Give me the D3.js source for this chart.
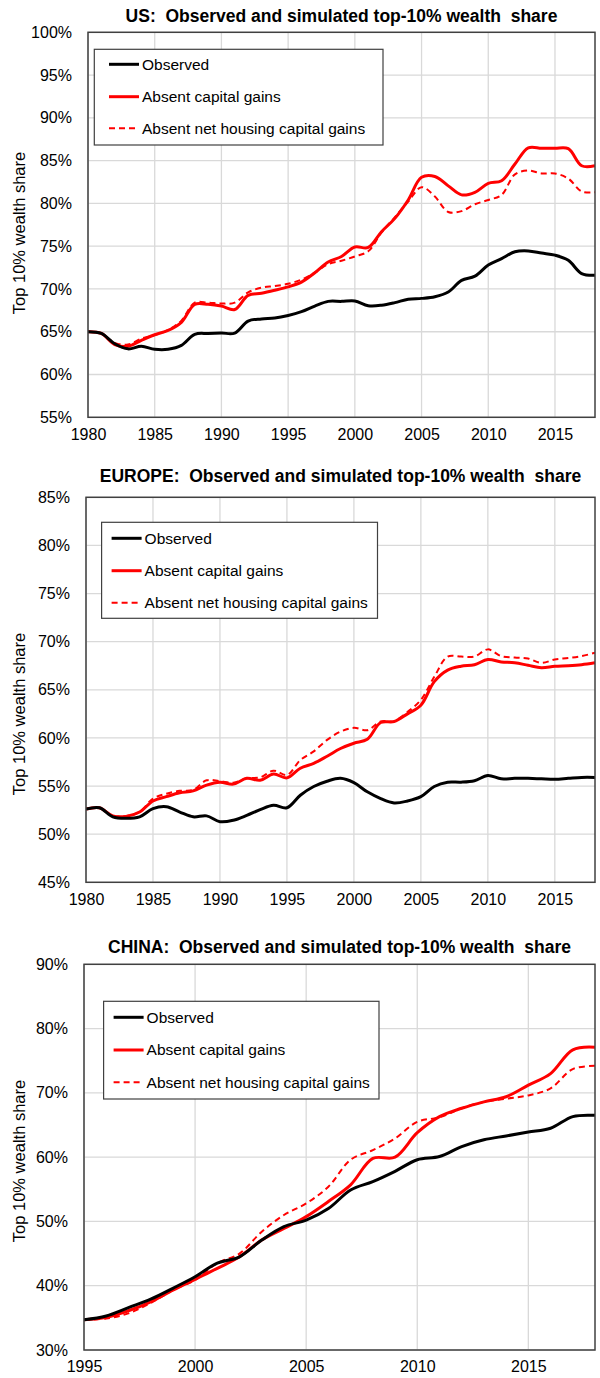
<!DOCTYPE html>
<html>
<head>
<meta charset="utf-8">
<script src="https://cdn.jsdelivr.net/npm/d3@7"></script>
<style>
  html, body { margin: 0; padding: 0; background: #fff; }
  svg { display: block; font-family: "Liberation Sans", Arial, sans-serif; }
</style>
</head>
<body>
<svg id="chart" width="600" height="1378"></svg>
<script>
// ---------- DATA ----------
const seriesNames = ["Observed", "Absent capital gains", "Absent net housing capital gains"];

const usYears = d3.range(1980, 2019);
const usObserved = [65.0, 64.8, 63.6, 63.0, 63.3, 62.95, 62.95, 63.4, 64.7, 64.8, 64.85, 64.85, 66.25, 66.5, 66.6, 66.9, 67.35, 68.0, 68.55, 68.55, 68.6, 68.05, 68.1, 68.4, 68.8, 68.9, 69.1, 69.65, 71.0, 71.5, 72.8, 73.55, 74.35, 74.45, 74.2, 73.95, 73.35, 71.8, 71.6];
const usNoCapGains = [65.0, 64.8, 63.5, 63.3, 64.0, 64.65, 65.15, 66.1, 68.2, 68.2, 68.0, 67.6, 69.25, 69.5, 69.85, 70.25, 70.8, 71.9, 73.15, 73.8, 74.9, 74.85, 76.7, 78.25, 80.4, 83.05, 83.15, 82.05, 81.0, 81.3, 82.35, 82.65, 84.6, 86.5, 86.45, 86.45, 86.4, 84.4, 84.4];
const usNoHousing = [65.0, 64.8, 63.7, 63.5, 64.2, 64.6, 65.2, 66.3, 68.4, 68.4, 68.3, 68.4, 69.6, 70.15, 70.35, 70.6, 71.1, 71.9, 72.9, 73.3, 73.8, 74.4, 76.6, 78.4, 80.2, 81.9, 80.8, 79.0, 79.1, 79.9, 80.4, 81.0, 83.4, 83.85, 83.5, 83.5, 82.9, 81.4, 81.3];
const usYTicks = [55, 60, 65, 70, 75, 80, 85, 90, 95, 100];
const usXTicks = [1980, 1985, 1990, 1995, 2000, 2005, 2010, 2015];

const euYears = d3.range(1980, 2019);
const euObserved = [52.6, 52.75, 51.8, 51.65, 51.8, 52.65, 52.85, 52.3, 51.8, 51.9, 51.3, 51.45, 51.95, 52.55, 53.0, 52.75, 54.05, 54.95, 55.5, 55.8, 55.35, 54.4, 53.7, 53.25, 53.45, 53.9, 54.95, 55.4, 55.4, 55.55, 56.1, 55.75, 55.8, 55.8, 55.75, 55.7, 55.8, 55.9, 55.9];
const euNoCapGains = [52.6, 52.75, 51.9, 51.85, 52.3, 53.45, 53.9, 54.3, 54.5, 55.1, 55.4, 55.2, 55.8, 55.6, 56.25, 55.85, 56.85, 57.35, 58.1, 58.9, 59.45, 59.85, 61.6, 61.7, 62.5, 63.4, 65.85, 67.05, 67.45, 67.6, 68.15, 67.9, 67.8, 67.55, 67.3, 67.45, 67.5, 67.6, 67.8];
const euNoHousing = [52.6, 52.75, 51.9, 51.9, 52.3, 53.7, 54.2, 54.5, 54.6, 55.6, 55.5, 55.35, 55.8, 55.9, 56.6, 56.15, 57.7, 58.6, 59.8, 60.65, 61.05, 60.8, 61.7, 61.75, 62.7, 63.95, 66.35, 68.45, 68.45, 68.45, 69.2, 68.5, 68.35, 68.25, 67.8, 68.15, 68.3, 68.5, 68.85];
const euYTicks = [45, 50, 55, 60, 65, 70, 75, 80, 85];
const euXTicks = [1980, 1985, 1990, 1995, 2000, 2005, 2010, 2015];

const cnYears = d3.range(1995, 2019);
const cnObserved = [34.7, 35.3, 36.6, 37.9, 39.6, 41.4, 43.5, 44.5, 47.1, 49.2, 50.2, 52.0, 54.9, 56.2, 57.8, 59.6, 60.1, 61.65, 62.7, 63.3, 63.9, 64.5, 66.3, 66.5];
const cnNoCapGains = [34.7, 35.1, 36.1, 37.5, 39.3, 41.0, 42.7, 44.5, 47.1, 48.9, 50.75, 53.1, 55.7, 59.8, 60.0, 63.8, 66.3, 67.6, 68.6, 69.4, 71.2, 73.0, 76.7, 77.1];
const cnNoHousing = [34.7, 34.9, 35.7, 37.3, 39.3, 40.9, 43.5, 45.0, 48.4, 51.0, 52.8, 55.4, 59.6, 61.1, 62.9, 65.5, 66.2, 67.6, 68.6, 69.1, 69.6, 70.7, 73.7, 74.2];
const cnYTicks = [30, 40, 50, 60, 70, 80, 90];
const cnXTicks = [1995, 2000, 2005, 2010, 2015];

// ---------- LAYOUT / STYLE ----------
const charts = [
  { title: "US:  Observed and simulated top-10% wealth  share",
    years: usYears, series: [usObserved, usNoCapGains, usNoHousing],
    yTicks: usYTicks, xTicks: usXTicks,
    box: { l: 88, r: 595, t: 32.3, b: 417.3 }, titleY: 16, yTitleY: 233,
    legend: { x: 94.3, y: 49.3, w: 288.7, h: 95.7, lx: 109, rows: [64.3, 96.7, 128.3] } },
  { title: "EUROPE:  Observed and simulated top-10% wealth  share",
    years: euYears, series: [euObserved, euNoCapGains, euNoHousing],
    yTicks: euYTicks, xTicks: euXTicks,
    box: { l: 86, r: 595, t: 497.3, b: 882.3 }, titleY: 476, yTitleY: 714,
    legend: { x: 101.6, y: 522.3, w: 275.9, h: 96, lx: 111.6, rows: [538.3, 570.7, 602.7] } },
  { title: "CHINA:  Observed and simulated top-10% wealth  share",
    years: cnYears, series: [cnObserved, cnNoCapGains, cnNoHousing],
    yTicks: cnYTicks, xTicks: cnXTicks,
    box: { l: 84, r: 595, t: 964.3, b: 1350 }, titleY: 947.3, yTitleY: 1161,
    legend: { x: 103.6, y: 1001.3, w: 275.4, h: 97.7, lx: 113.6, rows: [1017.3, 1050, 1082.3] } }
];

const styles = [
  { color: "#000000", width: 3, dash: null },
  { color: "#ff0000", width: 3, dash: null },
  { color: "#ff0000", width: 2, dash: "6,4" }
];

const svg = d3.select("#chart");

charts.forEach((c, ci) => {
  const b = c.box;
  const x = d3.scaleLinear().domain([c.years[0], c.years[c.years.length - 1]]).range([b.l, b.r]);
  const y = d3.scaleLinear().domain([c.yTicks[0], c.yTicks[c.yTicks.length - 1]]).range([b.b, b.t]);
  const g = svg.append("g");

  // clip
  const clipId = "clip" + ci;
  svg.append("clipPath").attr("id", clipId).append("rect")
    .attr("x", b.l).attr("y", b.t).attr("width", b.r - b.l).attr("height", b.b - b.t);

  // grid
  g.append("g").selectAll("line.h").data(c.yTicks).join("line")
    .attr("x1", b.l).attr("x2", b.r)
    .attr("y1", d => y(d)).attr("y2", d => y(d))
    .attr("stroke", "#d9d9d9").attr("stroke-width", 1.3);
  g.append("g").selectAll("line.v").data(c.xTicks).join("line")
    .attr("y1", b.t).attr("y2", b.b)
    .attr("x1", d => x(d)).attr("x2", d => x(d))
    .attr("stroke", "#d9d9d9").attr("stroke-width", 1.3);

  // axes (labels only via d3 axis)
  const yAxis = d3.axisLeft(y).tickValues(c.yTicks).tickSize(0).tickPadding(16).tickFormat(d => d + "%");
  const ya = g.append("g").attr("transform", `translate(${b.l},0)`).call(yAxis);
  ya.select(".domain").remove();
  ya.selectAll("text").attr("font-size", 16).attr("fill", "#000")
    .attr("font-family", "'Liberation Sans', Arial, sans-serif");

  const xAxis = d3.axisBottom(x).tickValues(c.xTicks).tickSize(0).tickPadding(11).tickFormat(d3.format("d"));
  const xa = g.append("g").attr("transform", `translate(0,${b.b})`).call(xAxis);
  xa.select(".domain").remove();
  xa.selectAll("text").attr("font-size", 16).attr("fill", "#000")
    .attr("font-family", "'Liberation Sans', Arial, sans-serif");

  // lines
  const line = d3.line().x((d, i) => x(c.years[i])).y(d => y(d)).curve(d3.curveCatmullRom.alpha(0.5));
  const lg = g.append("g").attr("clip-path", `url(#${clipId})`);
  [2, 1, 0].forEach(si => {
    lg.append("path").datum(c.series[si])
      .attr("d", line)
      .attr("fill", "none")
      .attr("stroke", styles[si].color)
      .attr("stroke-width", styles[si].width)
      .attr("stroke-dasharray", styles[si].dash)
      .attr("stroke-linejoin", "round");
  });

  // plot border
  g.append("rect").attr("x", b.l).attr("y", b.t).attr("width", b.r - b.l).attr("height", b.b - b.t)
    .attr("fill", "none").attr("stroke", "#404040").attr("stroke-width", 1.5);

  // title
  g.append("text").attr("x", (b.l + b.r) / 2).attr("y", c.titleY).attr("dy", "0.35em")
    .attr("text-anchor", "middle").attr("font-weight", "bold").attr("font-size", 17.5)
    .attr("xml:space", "preserve").style("white-space", "pre")
    .text(c.title);

  // y title
  g.append("text").attr("transform", `translate(19,${c.yTitleY}) rotate(-90)`)
    .attr("dy", "0.35em").attr("text-anchor", "middle").attr("font-size", 16.5)
    .text("Top 10% wealth share");

  // legend
  const L = c.legend;
  g.append("rect").attr("x", L.x).attr("y", L.y).attr("width", L.w).attr("height", L.h)
    .attr("fill", "#fff").attr("stroke", "#404040").attr("stroke-width", 1.2);
  seriesNames.forEach((name, si) => {
    g.append("line").attr("x1", L.lx).attr("x2", L.lx + 30)
      .attr("y1", L.rows[si]).attr("y2", L.rows[si])
      .attr("stroke", styles[si].color).attr("stroke-width", styles[si].width)
      .attr("stroke-dasharray", styles[si].dash);
    g.append("text").attr("x", L.lx + 33).attr("y", L.rows[si]).attr("dy", "0.35em")
      .attr("font-size", 15.5).attr("fill", "#000").text(name);
  });
});
</script>
</body>
</html>
